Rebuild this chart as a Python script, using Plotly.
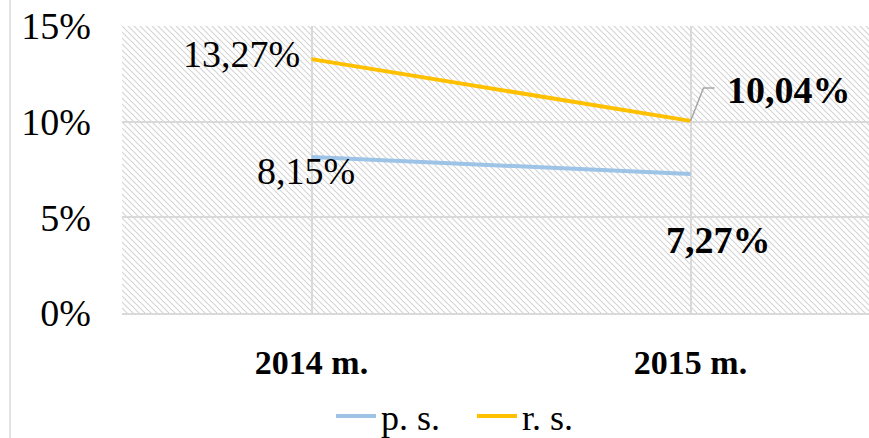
import plotly.graph_objects as go

categories = ["2014 m.", "2015 m."]
ps_values = [8.15, 7.27]
rs_values = [13.27, 10.04]
y_ticks = [0, 5, 10, 15]
y_tick_labels = ["0%", "5%", "10%", "15%"]

FONT = "Liberation Serif"
BLUE = "#9DC3E6"
GOLD = "#FFC000"

W, H = 880, 438
L, T, B = 122, 26, 125
PW = W - L
PH = H - T - B

def fmt(v):
    return f"{v:.2f}".replace(".", ",") + "%"

fig = go.Figure()
fig.add_trace(go.Scatter(x=categories, y=ps_values, name="p. s.", mode="lines",
                         line=dict(color=BLUE, width=4)))
fig.add_trace(go.Scatter(x=categories, y=rs_values, name="r. s.", mode="lines",
                         line=dict(color=GOLD, width=4)))

svg = ("data:image/svg+xml;utf8,"
       f"<svg xmlns='http://www.w3.org/2000/svg' width='{PW}' height='{PH}'>"
       "<defs><pattern id='p' patternUnits='userSpaceOnUse' width='6' height='6'>"
       "<path d='M-1,-1 L7,7 M-7,-1 L1,7 M5,-1 L13,7' stroke='%23d4d4d4' stroke-width='1.1'/>"
       f"</pattern></defs><rect width='{PW}' height='{PH}' fill='url(%23p)'/></svg>")
fig.add_layout_image(dict(source=svg, xref="paper", yref="paper", x=0, y=1,
                          sizex=1, sizey=1, xanchor="left", yanchor="top",
                          sizing="stretch", layer="below"))

anns = [
    dict(x=categories[0], y=rs_values[0], text=fmt(rs_values[0]), xanchor="right",
         yanchor="middle", xshift=-10, yshift=5, bold=False),
    dict(x=categories[0], y=ps_values[0], text=fmt(ps_values[0]), xanchor="center",
         yanchor="middle", xshift=-6, yshift=-14, bold=False),
    dict(x=categories[1], y=rs_values[1], text=fmt(rs_values[1]), xanchor="left",
         yanchor="middle", xshift=34, yshift=31, bold=True),
    dict(x=categories[1], y=ps_values[1], text=fmt(ps_values[1]), xanchor="center",
         yanchor="middle", xshift=28, yshift=-66, bold=True),
]
for a in anns:
    b = a.pop("bold")
    fig.add_annotation(**a, showarrow=False,
                       font=dict(family=FONT, size=38, color="#000000",
                                 weight="bold" if b else "normal"))

# leader line for 10,04%
fig.add_shape(type="path", xref="x", yref="y", xsizemode="pixel", ysizemode="pixel",
              xanchor=categories[1], yanchor=rs_values[1],
              path="M0,0 L13,33 L24,33", line=dict(color="#a6a6a6", width=1.5))

# outer chart border (left edge)
fig.add_shape(type="line", xref="paper", yref="paper",
              x0=(10 - L) / PW, x1=(10 - L) / PW, y0=-0.5, y1=1.2,
              line=dict(color="#d9d9d9", width=1.5))

fig.update_layout(
    width=W, height=H,
    margin=dict(l=L, r=0, t=T, b=B, autoexpand=False),
    paper_bgcolor="white", plot_bgcolor="rgba(0,0,0,0)",
    font=dict(family=FONT, color="#000000"),
    showlegend=True,
    legend=dict(orientation="h", x=(472 - L) / PW, y=(313 - 416) / PH,
                xanchor="center", yanchor="middle",
                font=dict(family=FONT, size=36), itemwidth=40, entrywidth=86,
                bgcolor="rgba(0,0,0,0)"),
    xaxis=dict(type="category", range=[-0.5, 1.5], showgrid=True, gridcolor="#d9d9d9",
               gridwidth=1.5, showline=True, linecolor="#d9d9d9", linewidth=2,
               tickfont=dict(family=FONT, size=34, weight="bold"), ticks="",
               ticklabelstandoff=18, zeroline=False, automargin=False),
    yaxis=dict(range=[0, 15], tickvals=y_ticks, ticktext=y_tick_labels, showgrid=True,
               gridcolor="#d9d9d9", gridwidth=1.5, showline=False, zeroline=False,
               tickfont=dict(family=FONT, size=38), ticks="", ticklabelstandoff=30,
               automargin=False),
)

fig.write_html("out.html", config={"displayModeBar": False},
               post_script=("document.body.style.margin='0';"
                            "document.body.style.overflow='hidden';"
                            "document.documentElement.style.overflow='hidden';"))
